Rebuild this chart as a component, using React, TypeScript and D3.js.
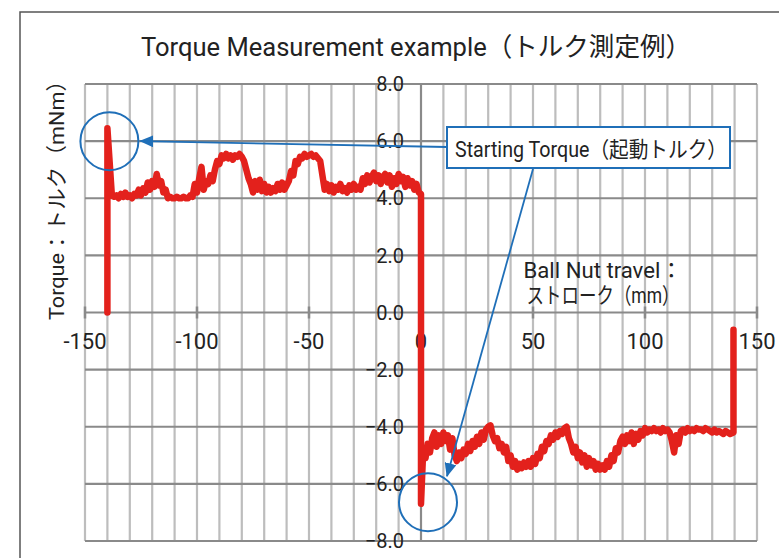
import React from 'react';
import * as d3 from 'd3';

// Ball nut travel (mm) vs torque (mNm), outward stroke (negative side)
const outwardStroke: [number, number][] = [
  [-140, 0], [-140, 6.45], [-138, 4.1], [-137, 4.05], [-136, 4.1], [-135, 4.0], [-134, 4.15], [-133, 4.05],
  [-132, 4.2], [-131, 4.05], [-130, 4.1], [-129, 4.0], [-128, 4.15], [-127, 4.1], [-126, 4.3], [-125, 4.1],
  [-124, 4.35], [-123, 4.2], [-122, 4.55], [-121, 4.3], [-120, 4.6], [-119, 4.4], [-118, 4.85], [-117, 4.45],
  [-116, 4.6], [-115, 4.2], [-114, 4.3], [-113, 4.0], [-112, 4.05], [-111, 4.0], [-110, 4.0], [-109, 4.05],
  [-108, 4.0], [-107, 4.0], [-106, 4.05], [-105, 4.0], [-104, 4.0], [-103, 4.1], [-102, 4.05], [-101, 4.5],
  [-100, 4.2], [-99, 4.7], [-98, 5.1], [-97, 4.3], [-96, 4.6], [-95, 4.5], [-94, 4.8], [-93, 4.6],
  [-92, 5.0], [-91, 5.3], [-90, 5.2], [-89, 5.5], [-88, 5.4], [-87, 5.55], [-86, 5.4], [-85, 5.5],
  [-84, 5.35], [-83, 5.5], [-82, 5.45], [-81, 5.55], [-80, 5.45], [-79, 5.3], [-78, 5.0], [-77, 4.7],
  [-76, 4.5], [-75, 4.2], [-74, 4.6], [-73, 4.3], [-72, 4.65], [-71, 4.25], [-70, 4.5], [-69, 4.2],
  [-68, 4.4], [-67, 4.2], [-66, 4.35], [-65, 4.25], [-64, 4.5], [-63, 4.3], [-62, 4.55], [-61, 4.3],
  [-60, 4.45], [-59, 4.6], [-58, 4.95], [-57, 4.8], [-56, 5.3], [-55, 5.2], [-54, 5.45], [-53, 5.4],
  [-52, 5.55], [-51, 5.45], [-50, 5.5], [-49, 5.55], [-48, 5.45], [-47, 5.5], [-46, 5.4], [-45, 5.3],
  [-44, 4.8], [-43, 4.3], [-42, 4.5], [-41, 4.25], [-40, 4.45], [-39, 4.2], [-38, 4.4], [-37, 4.3],
  [-36, 4.5], [-35, 4.25], [-34, 4.35], [-33, 4.2], [-32, 4.45], [-31, 4.3], [-30, 4.5], [-29, 4.3],
  [-28, 4.4], [-27, 4.3], [-26, 4.7], [-25, 4.5], [-24, 4.8], [-23, 4.55], [-22, 4.75], [-21, 4.9],
  [-20, 4.6], [-19, 4.8], [-18, 4.5], [-17, 4.75], [-16, 4.85], [-15, 4.55], [-14, 4.8], [-13, 4.4],
  [-12, 4.7], [-11, 4.5], [-10, 4.85], [-9, 4.6], [-8, 4.75], [-7, 4.4], [-6, 4.7], [-5, 4.45],
  [-4, 4.6], [-3, 4.3], [-2, 4.5], [-1, 4.2], [0, 4.15],
];

// Return stroke (positive side)
const returnStroke: [number, number][] = [
  [0, -6.7], [1, -4.8], [2, -5.1], [3, -4.6], [4, -4.9], [5, -4.4], [6, -4.2], [7, -4.7],
  [8, -4.3], [9, -4.6], [10, -4.2], [11, -4.5], [12, -4.3], [13, -4.8], [14, -4.4], [15, -5.0],
  [16, -5.2], [17, -4.9], [18, -5.1], [19, -4.8], [20, -4.95], [21, -4.6], [22, -4.85], [23, -4.5],
  [24, -4.7], [25, -4.35], [26, -4.6], [27, -4.2], [28, -4.45], [29, -4.1], [30, -4.0], [31, -3.95],
  [32, -4.3], [33, -4.5], [34, -4.4], [35, -4.75], [36, -4.6], [37, -4.9], [38, -4.7], [39, -5.2],
  [40, -5.0], [41, -5.4], [42, -5.2], [43, -5.5], [44, -5.3], [45, -5.45], [46, -5.25], [47, -5.4],
  [48, -5.2], [49, -5.4], [50, -5.1], [51, -5.3], [52, -4.95], [53, -5.1], [54, -4.7], [55, -4.85],
  [56, -4.5], [57, -4.6], [58, -4.3], [59, -4.45], [60, -4.2], [61, -4.35], [62, -4.15], [63, -4.25],
  [64, -4.05], [65, -4.0], [66, -4.4], [67, -4.6], [68, -4.9], [69, -4.7], [70, -5.1], [71, -4.9],
  [72, -5.25], [73, -5.0], [74, -5.4], [75, -5.1], [76, -5.35], [77, -5.2], [78, -5.5], [79, -5.3],
  [80, -5.5], [81, -5.35], [82, -5.5], [83, -5.2], [84, -5.4], [85, -5.0], [86, -5.2], [87, -4.75],
  [88, -4.9], [89, -4.5], [90, -4.35], [91, -4.6], [92, -4.3], [93, -4.5], [94, -4.2], [95, -4.6],
  [96, -4.25], [97, -4.45], [98, -4.15], [99, -4.3], [100, -4.05], [101, -4.2], [102, -4.1], [103, -4.15],
  [104, -4.05], [105, -4.15], [106, -4.1], [107, -4.2], [108, -4.05], [109, -4.15], [110, -4.1], [111, -4.2],
  [112, -4.5], [113, -4.9], [114, -4.3], [115, -4.6], [116, -4.15], [117, -4.1], [118, -4.2], [119, -4.05],
  [120, -4.15], [121, -4.1], [122, -4.15], [123, -4.05], [124, -4.1], [125, -4.1], [126, -4.15], [127, -4.05],
  [128, -4.1], [129, -4.15], [130, -4.2], [131, -4.1], [132, -4.2], [133, -4.15], [134, -4.2], [135, -4.25],
  [136, -4.15], [137, -4.2], [138, -4.25], [139.5, -4.2], [139.5, -0.6],
];

const xTicks = [-150, -100, -50, 0, 50, 100, 150];
const xGrid = [-150, -140, -130, -120, -110, -100, -90, -80, -70, -60, -50, -40, -30, -20, -10, 0,
  10, 20, 30, 40, 50, 60, 70, 80, 90, 100, 110, 120, 130, 140, 150];
const yTicks = [8, 6, 4, 2, 0, -2, -4, -6, -8];

const titleText = 'Torque Measurement example（トルク測定例）';
const yAxisTitle = 'Torque：トルク（mNm）';
const xAxisTitle1 = 'Ball Nut travel：';
const xAxisTitle2 = 'ストローク（mm）';
const calloutText = 'Starting Torque（起動トルク）';

// annotation targets (data coords)
const startPeakOut: [number, number] = [-140, 6.0];
const startPeakBack: [number, number] = [0, -6.5];

const FONT = "Roboto, 'Noto Sans CJK JP', sans-serif";
const BLUE = '#1f6fb8';
const RED = '#e3211c';

export default function App() {
  const x = d3.scaleLinear().domain([-150, 150]).range([85, 757]);
  const y = d3.scaleLinear().domain([-8, 8]).range([541, 84]);
  const line = d3.line<[number, number]>().x(d => x(d[0])).y(d => y(d[1]));
  const path = line([...outwardStroke, ...returnStroke]) || '';

  const c1 = { cx: x(startPeakOut[0]) + 2, cy: y(startPeakOut[1]) + 0 };
  const c2 = { cx: x(startPeakBack[0]) + 7, cy: y(startPeakBack[1]) + 4 };

  return (
    <svg width={779} height={558} style={{ position: 'absolute', left: 0, top: 0, display: 'block', background: '#fff' }}>
      <defs>
        <marker id="arrow" viewBox="0 0 14 12" refX={13} refY={6} markerWidth={14} markerHeight={12}
          markerUnits="userSpaceOnUse" orient="auto">
          <path d="M0,0 L14,6 L0,12 Z" fill={BLUE} />
        </marker>
      </defs>
      <rect x={20} y={12} width={900} height={700} fill="#fff" stroke="#555" strokeWidth={1.5} />
      <text x={416} y={56} fontFamily={FONT} fontSize={26} textAnchor="middle" textLength={550}
        lengthAdjust="spacingAndGlyphs" fill="#222">{titleText}</text>

      {/* vertical grid */}
      {xGrid.map(v => (
        <line key={'vx' + v} x1={x(v)} x2={x(v)} y1={y(8)} y2={y(-8)}
          stroke={v === 0 ? '#8a8a8a' : '#bdbdbd'} strokeWidth={2.2} />
      ))}
      {/* horizontal grid */}
      {yTicks.map(v => (
        <line key={'hy' + v} x1={x(-150)} x2={x(150)} y1={y(v)} y2={y(v)} stroke="#8a8a8a" strokeWidth={2.2} />
      ))}
      {/* x axis ticks */}
      {xTicks.map(v => (
        <line key={'tx' + v} x1={x(v)} x2={x(v)} y1={y(0) - 6} y2={y(0) + 6} stroke="#8a8a8a" strokeWidth={2.5} />
      ))}
      {xTicks.map(v => (
        <text key={'lx' + v} x={x(v)} y={349} fontFamily={FONT} fontSize={22} textAnchor="middle" fill="#222">{v}</text>
      ))}
      {yTicks.map(v => (
        <text key={'ly' + v} x={404} y={y(v)} dy="0.36em" fontFamily={FONT} fontSize={20} textAnchor="end" fill="#222">{d3.format('.1f')(v)}</text>
      ))}

      <text transform="translate(64,195) rotate(-90)" fontFamily={FONT} fontSize={21} textAnchor="middle"
        textLength={250} lengthAdjust="spacingAndGlyphs" fill="#222">{yAxisTitle}</text>
      <text x={603} y={278} fontFamily={FONT} fontSize={22} textAnchor="middle" textLength={159}
        lengthAdjust="spacingAndGlyphs" fill="#222">{xAxisTitle1}</text>
      <text x={603} y={303} fontFamily={FONT} fontSize={22} textAnchor="middle" textLength={153}
        lengthAdjust="spacingAndGlyphs" fill="#222">{xAxisTitle2}</text>

      <path d={path} fill="none" stroke={RED} strokeWidth={6.5} strokeLinejoin="round" strokeLinecap="round" />

      <circle cx={c1.cx} cy={c1.cy} r={29} fill="none" stroke={BLUE} strokeWidth={2} />
      <circle cx={c2.cx} cy={c2.cy} r={29} fill="none" stroke={BLUE} strokeWidth={2} />

      <line x1={447} y1={147} x2={c1.cx + 31} y2={c1.cy} stroke={BLUE} strokeWidth={1.8} markerEnd="url(#arrow)" />
      <line x1={533} y1={169} x2={c2.cx + 19} y2={c2.cy - 26} stroke={BLUE} strokeWidth={1.8} markerEnd="url(#arrow)" />

      <rect x={447} y={127} width={283} height={41} fill="#fff" stroke={BLUE} strokeWidth={2} />
      <text x={455} y={157} fontFamily={FONT} fontSize={22} textLength={272} lengthAdjust="spacingAndGlyphs"
        fill="#222">{calloutText}</text>
    </svg>
  );
}
